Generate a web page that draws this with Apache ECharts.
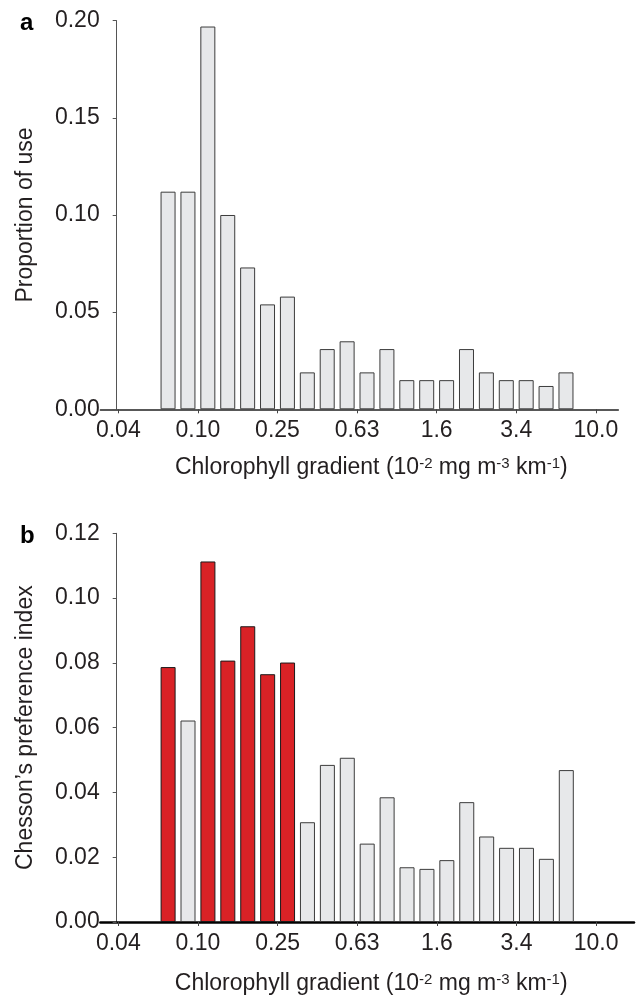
<!DOCTYPE html>
<html>
<head>
<meta charset="utf-8">
<script src="https://cdn.jsdelivr.net/npm/echarts@6/dist/echarts.min.js"></script>
<style>
  html, body { margin: 0; padding: 0; background: #ffffff; }
  #chart { width: 638px; height: 996px; }
</style>
</head>
<body>
<div id="chart"></div>
<script>
// Chlorophyll-gradient bins: 24 log-spaced bins between the 0.04 and 10.0 ticks,
// four bins per labelled tick interval.
const tickLabels = ['0.04', '0.10', '0.25', '0.63', '1.6', '3.4', '10.0'];

// Panel a: proportion of use per bin
const useProportion = [
  0, 0, 0.112, 0.112, 0.197, 0.100, 0.073, 0.054, 0.058, 0.019, 0.031, 0.035,
  0.019, 0.031, 0.015, 0.015, 0.015, 0.031, 0.019, 0.015, 0.015, 0.012, 0.019, 0
];

// Panel b: Chesson's preference index per bin
const chessonIndex = [
  0, 0, 0.0787, 0.0622, 0.1113, 0.0807, 0.0913, 0.0765, 0.0801, 0.0308, 0.0485, 0.0507,
  0.0242, 0.0385, 0.0169, 0.0164, 0.0191, 0.0370, 0.0264, 0.0229, 0.0229, 0.0195, 0.0469, 0
];

// Bins that are selected for (highlighted in red)
const preferredBins = [2, 4, 5, 6, 7, 8];

const BINS_PER_TICK = 4;
const FONT = '"Liberation Sans", Arial, Helvetica, sans-serif';
const TEXT_COLOR = '#231f20';
const GREY_FILL = '#e7e8ea';
const GREY_EDGE = '#3c3c3c';
const RED_FILL = '#d92226';
const RED_EDGE = '#1a1a1a';

const tickPositions = tickLabels.map((_, i) => i * BINS_PER_TICK);

function barData(values, highlighted) {
  const out = [];
  values.forEach((v, j) => {
    if (v <= 0) return;
    const red = highlighted && highlighted.includes(j);
    out.push({
      value: [j + 0.5, v],
      itemStyle: {
        color: red ? RED_FILL : GREY_FILL,
        borderColor: red ? RED_EDGE : GREY_EDGE,
        borderWidth: 1
      }
    });
  });
  return out;
}

function xAxisFor(gridIndex, maxVal, lineWidth, lineColor, gap, shift) {
  return {
    type: 'value',
    gridIndex: gridIndex,
    min: -0.9,
    max: maxVal,
    splitLine: { show: false },
    axisLine: { show: true, onZero: false, lineStyle: { color: lineColor, width: lineWidth } },
    axisTick: {
      show: true, length: 4, customValues: tickPositions,
      lineStyle: { color: '#444', width: 1 }
    },
    axisLabel: {
      customValues: tickPositions,
      formatter: v => tickLabels[Math.round(v / BINS_PER_TICK)],
      fontFamily: FONT, fontSize: 23, color: TEXT_COLOR, margin: 10
    },
    name: 'Chlorophyll gradient (10{sup|-2} mg m{sup|-3} km{sup|-1})',
    nameLocation: 'middle',
    nameGap: gap,
    nameTextStyle: {
      fontFamily: FONT, fontSize: 23, color: TEXT_COLOR,
      padding: [0, 0, 0, shift],
      rich: { sup: { fontFamily: FONT, fontSize: 15, color: TEXT_COLOR, verticalAlign: 'top', lineHeight: 14 } }
    }
  };
}

function yAxisFor(gridIndex, maxVal, step, title) {
  return {
    type: 'value',
    gridIndex: gridIndex,
    min: 0,
    max: maxVal,
    interval: step,
    offset: -16.3,
    splitLine: { show: false },
    axisLine: { show: true, onZero: false, lineStyle: { color: '#555', width: 1 } },
    axisTick: { show: true, length: 4, lineStyle: { color: '#555', width: 1 } },
    axisLabel: {
      formatter: v => v.toFixed(2),
      fontFamily: FONT, fontSize: 23, color: TEXT_COLOR, margin: 17
    },
    name: title,
    nameLocation: 'middle',
    nameGap: 80,
    nameTextStyle: { fontFamily: FONT, fontSize: 23, color: TEXT_COLOR }
  };
}

const chart = echarts.init(document.getElementById('chart'), null, { renderer: 'canvas' });

chart.setOption({
  animation: false,
  backgroundColor: '#ffffff',
  graphic: [
    { type: 'text', left: 20, top: 11, style: { text: 'a', font: 'bold 24px ' + FONT, fill: '#000' } },
    { type: 'text', left: 20, top: 524, style: { text: 'b', font: 'bold 24px ' + FONT, fill: '#000' } }
  ],
  grid: [
    { left: 100.4, top: 20.7, width: 517.9, height: 388.6, containLabel: false },
    { left: 100.4, top: 533.3, width: 533.6, height: 388.7, containLabel: false }
  ],
  xAxis: [
    xAxisFor(0, 25.13, 1.5, '#222', 47, 24),
    xAxisFor(1, 25.9, 2.5, '#000', 50, 8)
  ],
  yAxis: [
    yAxisFor(0, 0.20, 0.05, 'Proportion of use'),
    yAxisFor(1, 0.12, 0.02, 'Chesson\u2019s preference index')
  ],
  series: [
    {
      type: 'bar', xAxisIndex: 0, yAxisIndex: 0, barWidth: 15,
      data: barData(useProportion, null)
    },
    {
      type: 'bar', xAxisIndex: 1, yAxisIndex: 1, barWidth: 15,
      data: barData(chessonIndex, preferredBins)
    }
  ]
});
</script>
</body>
</html>
